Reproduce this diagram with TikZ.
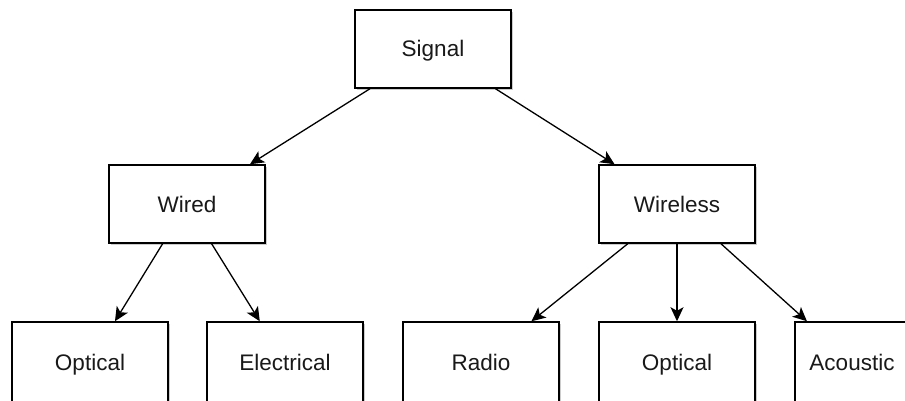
\documentclass[tikz,border=0pt]{standalone}
\usepackage{fontspec}
\setmainfont{Liberation Sans}
\usetikzlibrary{arrows.meta,shadows}
\tikzset{
  box/.style={draw=black,line width=1.5pt,fill=white,minimum width=156pt,minimum height=78pt,inner sep=0pt,
    font=\fontsize{22.5}{27}\selectfont,text=black!90,text height=16pt,text depth=0pt,
    drop shadow={shadow xshift=2pt,shadow yshift=-2pt,opacity=.2,fill=black}},
  arr/.style={-{Stealth[length=14pt,width=13pt,inset=3.5pt]},line width=1.3pt}
}
\begin{document}
\begin{tikzpicture}[x=1pt,y=-1pt]
\useasboundingbox[fill=white](0,0)rectangle(905,401);
\node[box](signal)at(433,49){Signal};
\node[box](wired)at(187,204){Wired};
\node[box](wireless)at(677,204){Wireless};
\node[box,minimum height=80pt](optA)at(90,362){Optical};
\node[box,minimum height=80pt](electrical)at(285,362){Electrical};
\node[box,minimum height=80pt](radio)at(481,362){Radio};
\node[box,minimum height=80pt](optB)at(677,362){Optical};
\node[box,minimum height=80pt,minimum width=114pt](acoustic)at(852,362){Acoustic};
\draw[arr](signal)--(wired);
\draw[arr](signal)--(wireless);
\draw[arr](wired)--(optA);
\draw[arr](wired)--(electrical);
\draw[arr](wireless)--(radio);
\draw[arr](wireless)--(optB);
\draw[arr](wireless)--(acoustic);
\end{tikzpicture}
\end{document}
